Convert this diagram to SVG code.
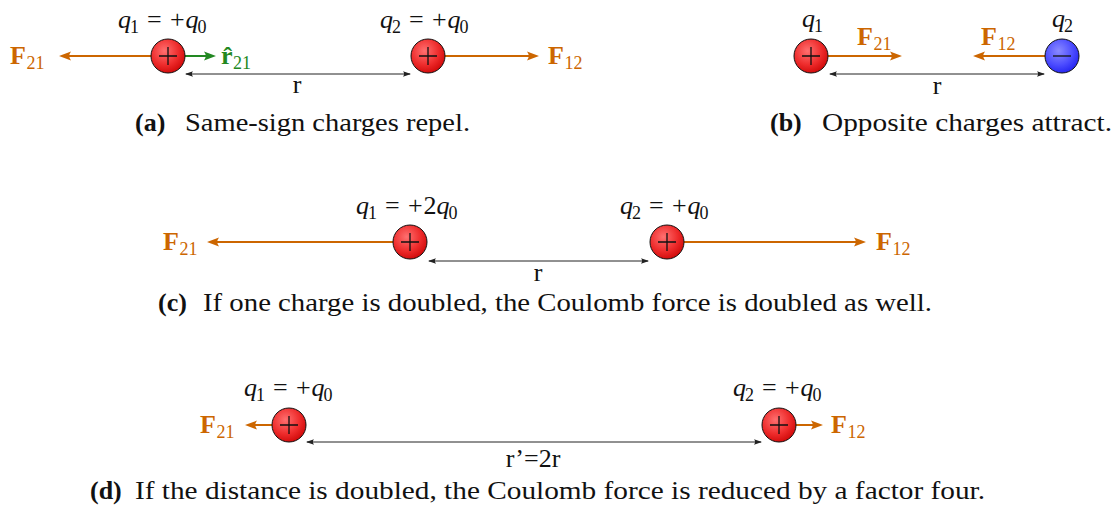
<svg xmlns="http://www.w3.org/2000/svg" width="1118" height="513" viewBox="0 0 1118 513">
<style>
text{font-family:"Liberation Serif","Times New Roman",serif;font-size:26px;fill:#111}
.i{font-style:italic}
.s{font-size:18px}
.b{font-weight:bold}
.F{fill:#cc6600}
.G{fill:#228822}
.force{stroke:#cc6600;stroke-width:2;fill:none}
.unit{stroke:#228822;stroke-width:2;fill:none}
.dim{stroke:#222;stroke-width:1;fill:none}
.pos{fill:url(#red);stroke:#111;stroke-width:1}
.neg{fill:url(#blue);stroke:#111;stroke-width:1}
.sign{stroke:#111;stroke-width:1.3;fill:none}
</style>
<defs>
<radialGradient id="red" cx="0.4" cy="0.35" r="0.75">
<stop offset="0" stop-color="#ff7070"/>
<stop offset="0.55" stop-color="#ee2c2c"/>
<stop offset="1" stop-color="#c80000"/>
</radialGradient>
<radialGradient id="blue" cx="0.4" cy="0.35" r="0.75">
<stop offset="0" stop-color="#8a8aff"/>
<stop offset="0.55" stop-color="#4d4dff"/>
<stop offset="1" stop-color="#1a1aee"/>
</radialGradient>
<marker id="ao" viewBox="0 0 12 10" refX="8" refY="5" markerWidth="12" markerHeight="10" markerUnits="userSpaceOnUse" orient="auto">
<path d="M12,5 L0,0.5 Q3.5,5 0,9.5 Z" fill="#cc6600"/>
</marker>
<marker id="ag" viewBox="0 0 12 10" refX="8" refY="5" markerWidth="12" markerHeight="10" markerUnits="userSpaceOnUse" orient="auto">
<path d="M12,5 L0,0.5 Q3.5,5 0,9.5 Z" fill="#228822"/>
</marker>
<marker id="ak" viewBox="0 0 8 6" refX="7" refY="3" markerWidth="8" markerHeight="6" markerUnits="userSpaceOnUse" orient="auto-start-reverse">
<path d="M8,3 L0,0.3 Q2.2,3 0,5.7 Z" fill="#222"/>
</marker>
</defs>

<g id="connectors">
<line class="force" x1="151" y1="56" x2="63" y2="56" marker-end="url(#ao)"/>
<line class="force" x1="445" y1="56" x2="535" y2="56" marker-end="url(#ao)"/>
<line class="unit" x1="185" y1="56" x2="212" y2="56" marker-end="url(#ag)"/>
<line class="dim" x1="186" y1="74" x2="410" y2="74" marker-start="url(#ak)" marker-end="url(#ak)"/>
<line class="force" x1="828" y1="56" x2="898" y2="56" marker-end="url(#ao)"/>
<line class="force" x1="1045" y1="56" x2="977" y2="56" marker-end="url(#ao)"/>
<line class="dim" x1="830" y1="74" x2="1044" y2="74" marker-start="url(#ak)" marker-end="url(#ak)"/>
<line class="force" x1="393" y1="242" x2="211" y2="242" marker-end="url(#ao)"/>
<line class="force" x1="684" y1="242" x2="862" y2="242" marker-end="url(#ao)"/>
<line class="dim" x1="429" y1="261" x2="648" y2="261" marker-start="url(#ak)" marker-end="url(#ak)"/>
<line class="force" x1="272" y1="425" x2="249" y2="425" marker-end="url(#ao)"/>
<line class="force" x1="796" y1="425" x2="819" y2="425" marker-end="url(#ao)"/>
<line class="dim" x1="307" y1="442" x2="761" y2="442" marker-start="url(#ak)" marker-end="url(#ak)"/>
</g>

<g id="a-q1">
<circle class="pos" cx="168" cy="56" r="17"/>
<path class="sign" d="M159,56 H177 M168,47 V65"/>
<text><tspan class="i" x="118" y="28">q</tspan><tspan class="s" x="130" y="33">1</tspan><tspan x="147" y="28">=</tspan><tspan x="170" y="28">+</tspan><tspan class="i" x="185.5" y="28">q</tspan><tspan class="s" x="197.5" y="33">0</tspan></text>
</g>
<g id="a-q2">
<circle class="pos" cx="428" cy="56" r="17"/>
<path class="sign" d="M419,56 H437 M428,47 V65"/>
<text><tspan class="i" x="380" y="28">q</tspan><tspan class="s" x="392" y="33">2</tspan><tspan x="409" y="28">=</tspan><tspan x="432" y="28">+</tspan><tspan class="i" x="447.5" y="28">q</tspan><tspan class="s" x="459.5" y="33">0</tspan></text>
</g>
<g id="a-labels">
<text class="F"><tspan class="b" x="10" y="64">F</tspan><tspan class="s" x="26.5" y="69">21</tspan></text>
<text class="F"><tspan class="b" x="548" y="64">F</tspan><tspan class="s" x="564.5" y="69">12</tspan></text>
<text class="G"><tspan class="b" x="221" y="64">r̂</tspan><tspan class="s" x="233" y="69">21</tspan></text>
<text x="297" y="93" text-anchor="middle">r</text>
<text class="b" x="135" y="131">(a)</text>
<text x="185" y="131" textLength="285" lengthAdjust="spacingAndGlyphs">Same-sign charges repel.</text>
</g>

<g id="b-q1">
<circle class="pos" cx="811" cy="56" r="17"/>
<path class="sign" d="M802,56 H820 M811,47 V65"/>
<text><tspan class="i" x="802" y="27">q</tspan><tspan class="s" x="814" y="32">1</tspan></text>
</g>
<g id="b-q2">
<circle class="neg" cx="1062" cy="56" r="17"/>
<path class="sign" d="M1053,56 H1071"/>
<text><tspan class="i" x="1052" y="27">q</tspan><tspan class="s" x="1064" y="32">2</tspan></text>
</g>
<g id="b-labels">
<text class="F"><tspan class="b" x="857" y="45">F</tspan><tspan class="s" x="873.5" y="50">21</tspan></text>
<text class="F"><tspan class="b" x="981" y="45">F</tspan><tspan class="s" x="997.5" y="50">12</tspan></text>
<text x="937" y="94" text-anchor="middle">r</text>
<text class="b" x="770" y="131">(b)</text>
<text x="822" y="131" textLength="290" lengthAdjust="spacingAndGlyphs">Opposite charges attract.</text>
</g>

<g id="c-q1">
<circle class="pos" cx="410" cy="242" r="17"/>
<path class="sign" d="M401,242 H419 M410,233 V251"/>
<text><tspan class="i" x="356" y="214">q</tspan><tspan class="s" x="368" y="219">1</tspan><tspan x="385" y="214">=</tspan><tspan x="408" y="214">+</tspan><tspan x="423.5" y="214">2</tspan><tspan class="i" x="436.5" y="214">q</tspan><tspan class="s" x="448.5" y="219">0</tspan></text>
</g>
<g id="c-q2">
<circle class="pos" cx="667" cy="242" r="17"/>
<path class="sign" d="M658,242 H676 M667,233 V251"/>
<text><tspan class="i" x="620" y="214">q</tspan><tspan class="s" x="632" y="219">2</tspan><tspan x="649" y="214">=</tspan><tspan x="672" y="214">+</tspan><tspan class="i" x="687.5" y="214">q</tspan><tspan class="s" x="699.5" y="219">0</tspan></text>
</g>
<g id="c-labels">
<text class="F"><tspan class="b" x="163" y="250">F</tspan><tspan class="s" x="179.5" y="255">21</tspan></text>
<text class="F"><tspan class="b" x="876" y="250">F</tspan><tspan class="s" x="892.5" y="255">12</tspan></text>
<text x="538" y="281" text-anchor="middle">r</text>
<text class="b" x="158" y="311">(c)</text>
<text x="203" y="311" textLength="729" lengthAdjust="spacingAndGlyphs">If one charge is doubled, the Coulomb force is doubled as well.</text>
</g>

<g id="d-q1">
<circle class="pos" cx="289" cy="425" r="17"/>
<path class="sign" d="M280,425 H298 M289,416 V434"/>
<text><tspan class="i" x="244" y="396">q</tspan><tspan class="s" x="256" y="401">1</tspan><tspan x="273" y="396">=</tspan><tspan x="296" y="396">+</tspan><tspan class="i" x="311.5" y="396">q</tspan><tspan class="s" x="323.5" y="401">0</tspan></text>
</g>
<g id="d-q2">
<circle class="pos" cx="779" cy="425" r="17"/>
<path class="sign" d="M770,425 H788 M779,416 V434"/>
<text><tspan class="i" x="733" y="396">q</tspan><tspan class="s" x="745" y="401">2</tspan><tspan x="762" y="396">=</tspan><tspan x="785" y="396">+</tspan><tspan class="i" x="800.5" y="396">q</tspan><tspan class="s" x="812.5" y="401">0</tspan></text>
</g>
<g id="d-labels">
<text class="F"><tspan class="b" x="200" y="433">F</tspan><tspan class="s" x="216.5" y="438">21</tspan></text>
<text class="F"><tspan class="b" x="831" y="433">F</tspan><tspan class="s" x="847.5" y="438">12</tspan></text>
<text x="533" y="467" text-anchor="middle">r’=2r</text>
<text class="b" x="90" y="499">(d)</text>
<text x="135" y="499" textLength="850" lengthAdjust="spacingAndGlyphs">If the distance is doubled, the Coulomb force is reduced by a factor four.</text>
</g>
</svg>
